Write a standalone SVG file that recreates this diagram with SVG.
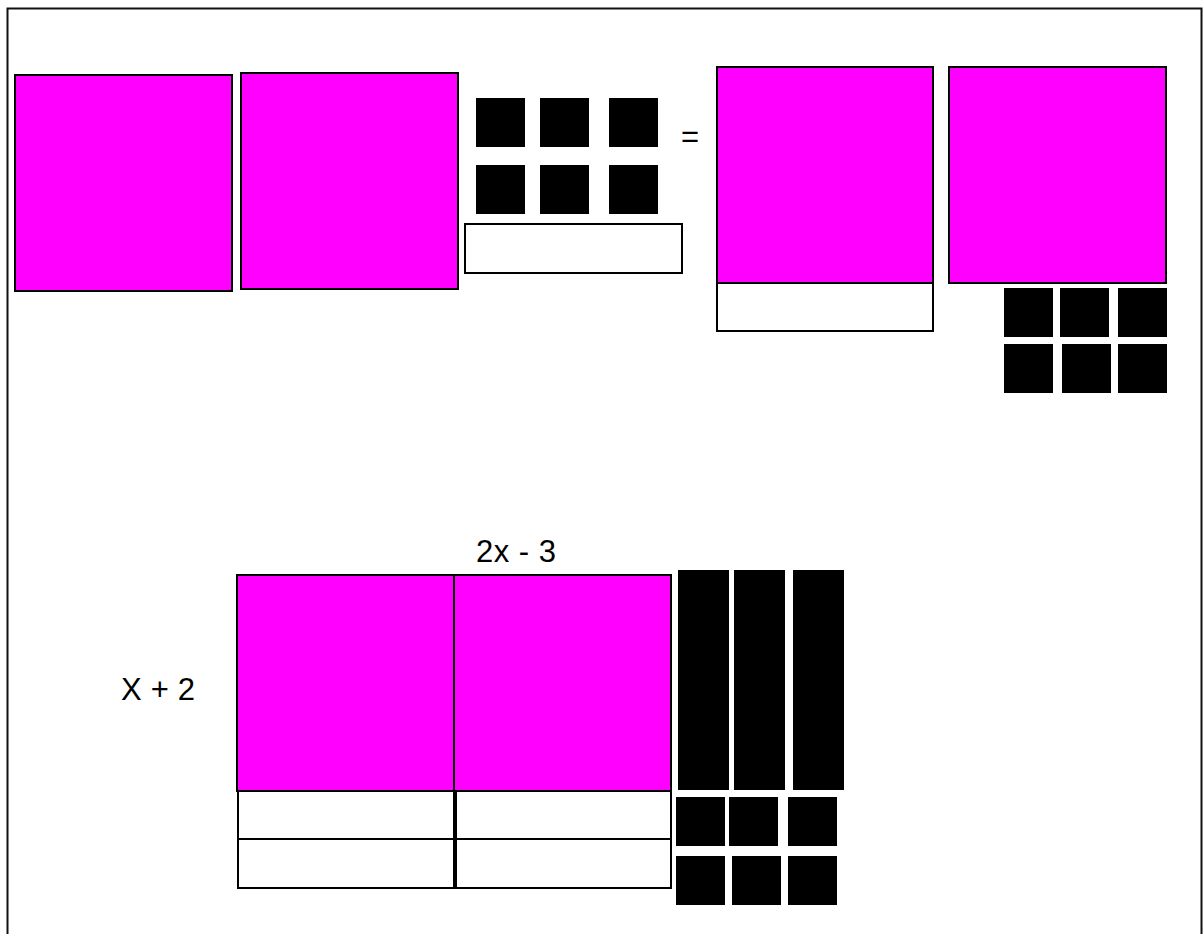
<svg xmlns="http://www.w3.org/2000/svg" width="1203" height="934" viewBox="0 0 1203 934">
<style>
.mag{fill:#FF00FF;stroke:#000;stroke-width:2}
.wht{fill:#fff;stroke:#000;stroke-width:2}
.blk{fill:#000;stroke:none}
.lbl{font-family:"Liberation Sans",Arial,sans-serif;font-size:31px;fill:#000}
</style>
<rect width="1203" height="934" fill="#fff"/>
<g id="frame"><rect x="7.5" y="8.5" width="1194" height="1000" fill="none" stroke="#111" stroke-width="2"/></g>
<g id="top-left">
<rect class="mag" x="15" y="75" width="217" height="216"/>
<rect class="mag" x="241" y="73" width="217" height="216"/>
</g>
<g id="top-units">
<rect class="blk" x="476" y="98" width="49" height="49"/>
<rect class="blk" x="540" y="98" width="49" height="49"/>
<rect class="blk" x="609" y="98" width="49" height="49"/>
<rect class="blk" x="476" y="165" width="49" height="49"/>
<rect class="blk" x="540" y="165" width="49" height="49"/>
<rect class="blk" x="609" y="165" width="49" height="49"/>
<rect class="wht" x="465" y="224" width="217" height="49"/>
</g>
<g id="equals"><text class="lbl" x="681" y="147">=</text></g>
<g id="top-right">
<rect class="mag" x="717" y="67" width="216" height="216"/>
<rect class="wht" x="717" y="283" width="216" height="48"/>
<rect class="mag" x="949" y="67" width="217" height="216"/>
<rect class="blk" x="1004" y="288" width="49" height="49"/>
<rect class="blk" x="1060" y="288" width="49" height="49"/>
<rect class="blk" x="1118" y="288" width="49" height="49"/>
<rect class="blk" x="1004" y="344" width="49" height="49"/>
<rect class="blk" x="1062" y="344" width="49" height="49"/>
<rect class="blk" x="1118" y="344" width="49" height="49"/>
</g>
<g id="labels">
<text class="lbl" x="476" y="562" textLength="80">2x - 3</text>
<text class="lbl" x="121" y="700" textLength="74">X + 2</text>
</g>
<g id="bottom-area">
<rect class="mag" x="237" y="575" width="217" height="216"/>
<rect class="mag" x="454" y="575" width="217" height="216"/>
<rect class="wht" x="238" y="791" width="216" height="48"/>
<rect class="wht" x="238" y="839" width="216" height="49"/>
<rect class="wht" x="456" y="791" width="215" height="48"/>
<rect class="wht" x="456" y="839" width="215" height="49"/>
</g>
<g id="bottom-units">
<rect class="blk" x="678" y="570" width="51" height="220"/>
<rect class="blk" x="734" y="570" width="51" height="220"/>
<rect class="blk" x="793" y="570" width="51" height="220"/>
<rect class="blk" x="676" y="797" width="49" height="49"/>
<rect class="blk" x="729" y="797" width="49" height="49"/>
<rect class="blk" x="788" y="797" width="49" height="49"/>
<rect class="blk" x="676" y="856" width="49" height="49"/>
<rect class="blk" x="732" y="856" width="49" height="49"/>
<rect class="blk" x="788" y="856" width="49" height="49"/>
</g>
</svg>
